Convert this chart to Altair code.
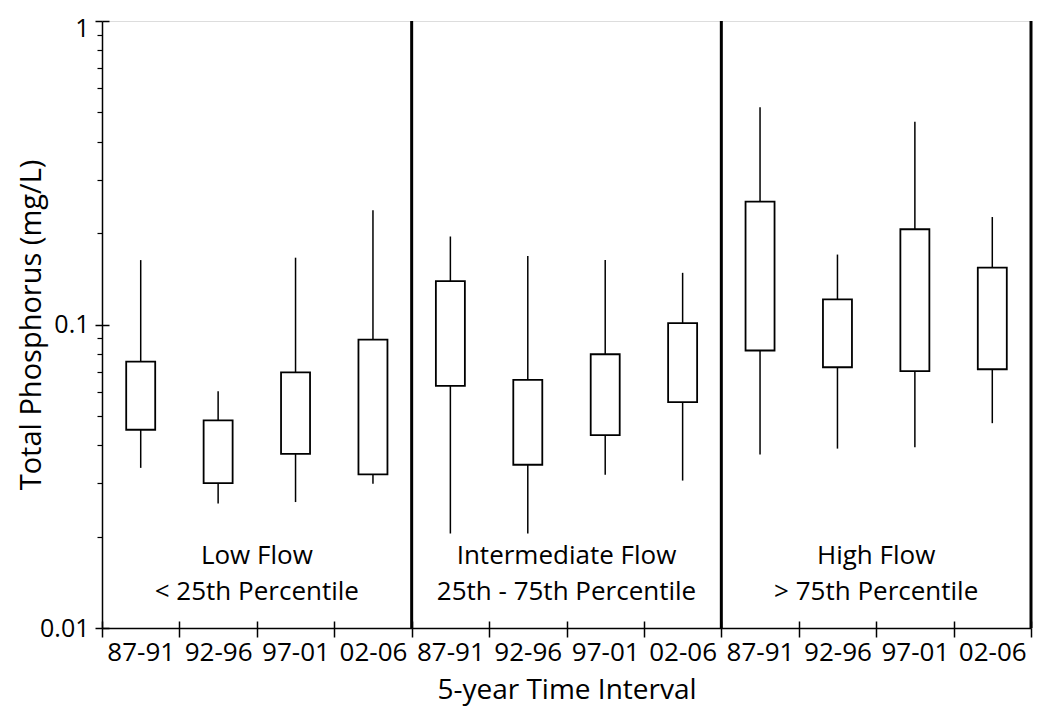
import altair as alt
import pandas as pd

FONT = "Open Sans"

panels = ["Low Flow", "Intermediate Flow", "High Flow"]
subtitles = ["< 25th Percentile", "25th - 75th Percentile", "> 75th Percentile"]
intervals = ["87-91", "92-96", "97-01", "02-06"]

# per box, ordered panel by panel, interval by interval
whisker_high = [0.163, 0.0603, 0.166, 0.238,
                0.195, 0.168, 0.163, 0.148,
                0.520, 0.170, 0.466, 0.226]
q3 = [0.0754, 0.0483, 0.0695, 0.0891,
      0.139, 0.0657, 0.0798, 0.101,
      0.254, 0.121, 0.206, 0.154]
q1 = [0.0450, 0.0300, 0.0375, 0.0321,
      0.0628, 0.0345, 0.0432, 0.0555,
      0.0821, 0.0723, 0.0702, 0.0712]
whisker_low = [0.0337, 0.0257, 0.0260, 0.0299,
               0.0205, 0.0205, 0.0320, 0.0306,
               0.0373, 0.0390, 0.0394, 0.0473]

major_ticks = [0.01, 0.1, 1]
minor_ticks = [0.02, 0.03, 0.04, 0.05, 0.06, 0.07, 0.08, 0.09,
               0.2, 0.3, 0.4, 0.5, 0.6, 0.7, 0.8, 0.9]

slots = [f"{p}|{i}" for p in panels for i in intervals]
df = pd.DataFrame({
    "slot": slots,
    "lo": whisker_low, "q1": q1, "q3": q3, "hi": whisker_high,
})
div_df = pd.DataFrame({"slot": [f"{p}|{intervals[0]}" for p in panels[1:]]})
right_df = pd.DataFrame({"slot": [f"{panels[-1]}|{intervals[-1]}"]})
txt_df = pd.DataFrame({
    "slot": [f"{p}|{intervals[1]}" for p in panels],
    "label": [f"{p}\n{s}" for p, s in zip(panels, subtitles)],
})

xscale = alt.Scale(domain=slots, paddingInner=0, paddingOuter=0)
yscale = alt.Scale(type="log", domain=[0.01, 1], nice=False)

x_main = alt.X("slot:N", scale=xscale, sort=slots, axis=alt.Axis(
    orient="bottom", title="5-year Time Interval", tickBand="extent",
    labelExpr="split(datum.label, '|')[1]", labelAngle=0,
    labelFont=FONT, labelFontSize=26, labelColor="black", labelPadding=2,
    titleFont=FONT, titleFontSize=28, titleFontWeight="normal", titleColor="black",
    titlePadding=11, tickSize=9, tickColor="black", tickWidth=1.5,
    domainColor="black", domainWidth=1.5))
y_main = alt.Y("lo:Q", scale=yscale, axis=alt.Axis(
    orient="left", title="Total Phosphorus (mg/L)", values=major_ticks,
    labelExpr="datum.value >= 1 ? '1' : (datum.value >= 0.1 ? '0.1' : '0.01')",
    labelFont=FONT, labelFontSize=25, labelColor="black", labelPadding=6,
    labelOffset={"condition": {"test": "datum.value >= 1", "value": 7}, "value": 0},
    titleFont=FONT, titleFontSize=29, titleFontWeight="normal", titleColor="black",
    titleX=-62, titleBaseline="alphabetic", titleAngle=270,
    tickSize=7, tickColor="black", tickWidth=1.5,
    domainColor="black", domainWidth=1.5, grid=False))

whiskers = alt.Chart(df).mark_rule(color="black", strokeWidth=1.5).encode(
    x=x_main, y=y_main, y2="hi:Q")

boxes = alt.Chart(df).mark_bar(size=29, fill="white", stroke="black",
                               strokeWidth=1.8).encode(
    x=alt.X("slot:N", scale=xscale, sort=slots, axis=alt.Axis(
        orient="bottom", title=None, labels=False, domain=False,
        tickBand="extent", offset=-7, tickSize=7, tickColor="black",
        tickWidth=1.5)),
    y=alt.Y("q1:Q", scale=yscale, axis=alt.Axis(
        orient="left", title=None, labels=False, domain=False,
        values=minor_ticks, tickSize=5, tickColor="black", tickWidth=1.2,
        grid=False)),
    y2="q3:Q")

dividers = alt.Chart(div_df).mark_rule(color="black", strokeWidth=3).encode(
    x=alt.X("slot:N", scale=xscale, sort=slots, bandPosition=0, axis=None))
right_border = alt.Chart(right_df).mark_rule(color="black", strokeWidth=3).encode(
    x=alt.X("slot:N", scale=xscale, sort=slots, bandPosition=1, axis=None))

labels = alt.Chart(txt_df).mark_text(
    font=FONT, fontSize=26, color="black", align="center", baseline="middle",
    lineBreak="\n", lineHeight=36).encode(
    x=alt.X("slot:N", scale=xscale, sort=slots, bandPosition=1, axis=None),
    y=alt.Y(datum=0.0173, scale=yscale, axis=alt.Axis(
        orient="left", title=None, labels=False, domain=False,
        values=major_ticks, offset=-7, tickSize=7, tickColor="black",
        tickWidth=1.5, grid=False)),
    text="label:N")

chart = alt.layer(whiskers, boxes, dividers, right_border, labels).resolve_axis(
    x="independent", y="independent").properties(
    width=929, height=607,
    autosize=alt.AutoSizeParams(type="none"),
    padding={"left": 94, "top": 13, "right": 2, "bottom": 83},
).configure_view(stroke="black", strokeWidth=1.5
).configure(background="white")

chart.save("out.html", embed_options={"renderer": "svg", "actions": False})
